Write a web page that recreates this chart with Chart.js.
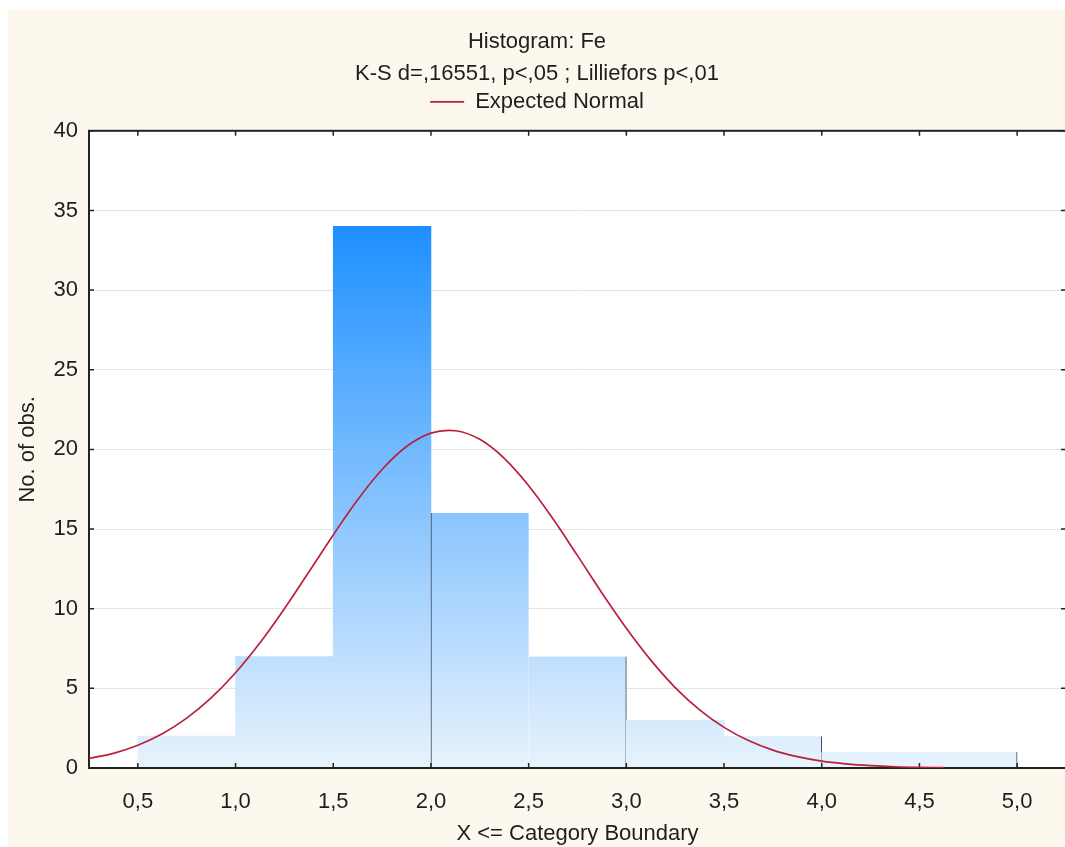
<!DOCTYPE html>
<html lang="en">
<head>
  <meta charset="UTF-8" />
  <title>Histogram: Fe</title>
  <script src="https://cdn.jsdelivr.net/npm/chart.js@4.4.0/dist/chart.umd.min.js"></script>
  <style>
html, body { margin: 0; padding: 0; background: #fff; overflow: hidden; }
.panel {
  position: absolute; left: 8px; top: 10px;
  width: 1070px; height: 837px; background: #fcf8ee;
}
  </style>
</head>
<body>
  <div class="panel"><canvas id="hist" width="1070" height="837"></canvas></div>

  <script>
    // histogram bins (X <= category boundary)
    const binLower = [0.5, 1.0, 1.5, 2.0, 2.5, 3.0, 3.5, 4.0, 4.5];
    const binUpper = [1.0, 1.5, 2.0, 2.5, 3.0, 3.5, 4.0, 4.5, 5.0];
    const counts   = [2, 7, 34, 16, 7, 3, 2, 1, 1];

    // expected normal curve
    const curveX = [0.25, 0.375, 0.5, 0.625, 0.75, 0.875, 1.0, 1.125, 1.25, 1.375, 1.5, 1.625,
                    1.75, 1.875, 2.0, 2.125, 2.25, 2.375, 2.5, 2.625, 2.75, 2.875, 3.0, 3.125,
                    3.25, 3.375, 3.5, 3.625, 3.75, 3.875, 4.0, 4.125, 4.25, 4.375, 4.5, 4.625];
    const curveY = [0.6, 0.92, 1.43, 2.15, 3.13, 4.4, 5.98, 7.86, 10.0, 12.3, 14.63, 16.84,
                    18.74, 20.18, 21.02, 21.17, 20.63, 19.44, 17.72, 15.63, 13.33, 10.99, 8.77, 6.77,
                    5.05, 3.65, 2.55, 1.72, 1.12, 0.71, 0.43, 0.26, 0.15, 0.08, 0.04, 0.02];

    // axes
    const xTicks = [0.5, 1.0, 1.5, 2.0, 2.5, 3.0, 3.5, 4.0, 4.5, 5.0];
    const xMin = 0.25, xMax = 5.25;
    const yMin = 0, yMax = 40, yStep = 5;

    const ink = '#1e1e1e';
    Chart.defaults.font.family = '"Liberation Sans", Arial, sans-serif';
    Chart.defaults.font.size = 22;
    Chart.defaults.color = ink;

    // thin dark edges that show on a few bars
    const barEdges = [0, 0, 0, {left: 1}, {right: 1}, 0, {right: 1}, 0, {right: 1}];

    function barFill(c) {
      const chart = c.chart;
      if (!chart.chartArea) return '#8cc4f8';
      const y = chart.scales.y;
      const g = chart.ctx.createLinearGradient(0, y.getPixelForValue(Math.max(...counts)), 0, y.getPixelForValue(0));
      g.addColorStop(0, '#1e90ff');
      g.addColorStop(1, '#e8f3fd');
      return g;
    }

    // white plot area, frame and inward tick marks
    const framePlugin = {
      id: 'frame',
      beforeDraw(chart) {
        const {ctx, chartArea: a} = chart;
        ctx.save();
        ctx.fillStyle = '#fff';
        ctx.fillRect(a.left, a.top, a.right - a.left, a.bottom - a.top);
        ctx.restore();
      },
      afterDatasetDraw(chart, args) {
        if (args.index !== 0) return;
        const {ctx, chartArea: a, scales} = chart;
        ctx.save();
        ctx.strokeStyle = '#222';
        ctx.lineWidth = 1.5;
        ctx.beginPath();
        scales.x.ticks.forEach(t => {
          const px = scales.x.getPixelForValue(t.value);
          ctx.moveTo(px, a.bottom); ctx.lineTo(px, a.bottom - 5);
          ctx.moveTo(px, a.top); ctx.lineTo(px, a.top + 5);
        });
        scales.y.ticks.forEach(t => {
          const py = scales.y.getPixelForValue(t.value);
          ctx.moveTo(a.left, py); ctx.lineTo(a.left + 5, py);
          ctx.moveTo(a.right, py); ctx.lineTo(a.right - 5, py);
        });
        ctx.stroke();
        ctx.lineWidth = 2;
        ctx.strokeRect(a.left, a.top, a.right - a.left, a.bottom - a.top);
        ctx.restore();
      }
    };

    new Chart(document.getElementById('hist'), {
      type: 'bar',
      data: {
        datasets: [
          {
            type: 'bar',
            label: 'Fe',
            xAxisID: 'x',
            data: binLower.map((lo, i) => ({x: (lo + binUpper[i]) / 2, y: counts[i]})),
            backgroundColor: barFill,
            borderColor: '#3a4455',
            borderWidth: c => barEdges[c.dataIndex],
            barPercentage: 1,
            categoryPercentage: 1,
            order: 2
          },
          {
            type: 'line',
            label: 'Expected Normal',
            xAxisID: 'x',
            data: curveX.map((x, i) => ({x, y: curveY[i]})),
            borderColor: '#bb2039',
            borderWidth: 1.7,
            pointRadius: 0,
            tension: 0.4,
            fill: false,
            order: 1
          }
        ]
      },
      options: {
        responsive: false,
        animation: false,
        layout: { padding: { left: 0, right: 12, top: 0, bottom: 0 } },
        plugins: {
          title: {
            display: true, text: 'Histogram: Fe', color: ink,
            font: { size: 22, weight: 'normal' }, padding: { top: 19, bottom: 0 }
          },
          subtitle: {
            display: true, text: 'K-S d=,16551, p<,05 ; Lilliefors p<,01', color: ink,
            font: { size: 22, weight: 'normal' }, padding: { top: 5, bottom: 0 }
          },
          legend: {
            position: 'top',
            labels: {
              usePointStyle: true, pointStyle: 'line', pointStyleWidth: 34,
              padding: 4, color: ink, font: { size: 22 },
              filter: item => item.datasetIndex === 1
            }
          },
          tooltip: { enabled: false }
        },
        scales: {
          x: {
            type: 'linear', position: 'bottom', min: xMin, max: xMax, offset: false,
            afterBuildTicks: s => { s.ticks = xTicks.map(v => ({value: v})); },
            afterFit: s => { s.height = 79; },
            grid: { display: false, drawTicks: false, offset: false },
            border: { display: false },
            ticks: {
              padding: 21, maxRotation: 0, autoSkip: false, color: ink,
              callback: v => v.toFixed(1).replace('.', ',')
            },
            title: {
              display: true, text: 'X <= Category Boundary', color: ink,
              padding: { top: 2, bottom: 0 }
            }
          },
          xTop: {
            type: 'linear', position: 'top', min: xMin, max: xMax, offset: false,
            afterFit: s => { s.height = 8; },
            grid: { display: false, drawTicks: false },
            border: { display: false },
            ticks: { display: false }
          },
          y: {
            min: yMin, max: yMax,
            afterFit: s => { s.width = 81; },
            grid: { color: '#e4e4e4', lineWidth: 1, drawTicks: false },
            border: { display: false },
            ticks: { stepSize: yStep, padding: 11, color: ink },
            title: {
              display: true, text: 'No. of obs.', color: ink,
              padding: { top: 7, bottom: 0 }
            }
          }
        }
      },
      plugins: [framePlugin]
    });
  </script>
</body>
</html>
